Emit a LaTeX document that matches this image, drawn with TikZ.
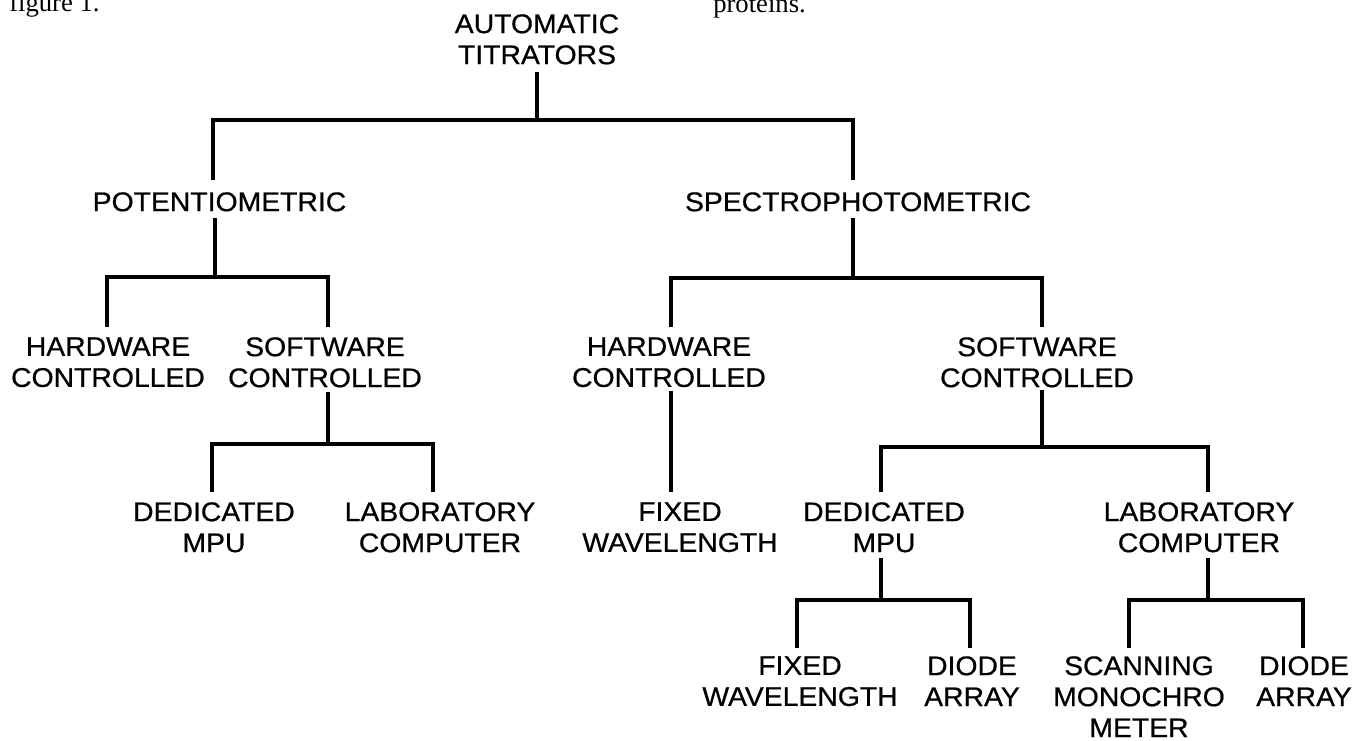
\documentclass[tikz,border=0pt]{standalone}
\usepackage{fontspec}
\setmainfont{Liberation Sans}[FakeStretch=1.05, FakeBold=0.6]
\newfontfamily\bodyserif{Liberation Serif}
\usetikzlibrary{calc}
\tikzset{
  lbl/.style={anchor=north, inner sep=0pt, align=center,
    font=\fontsize{20.25pt}{23.25pt}\selectfont},
  frag/.style={anchor=base west, inner sep=0pt,
    font=\bodyserif\fontsize{20pt}{24pt}\selectfont},
  conn/.style={line width=3.3pt, line join=miter, line cap=butt, black}
}
\begin{document}
\begin{tikzpicture}[x=0.75pt, y=-0.75pt]
\useasboundingbox (0,0) rectangle (1353,740);
\clip (0,0) rectangle (1353,740);
\fill[white] (0,0) rectangle (1353,740);

% cut-off page text
\node[frag] (fig) at (9,11) {figure 1.};
\node[frag] (prot) at (713,12) {proteins.};

% labels
\node[lbl] (root) at (537,14)  {AUTOMATIC\\TITRATORS};
\node[lbl] (pot)  at (219.5,192) {POTENTIOMETRIC};
\node[lbl] (spec) at (858,192) {SPECTROPHOTOMETRIC};
\node[lbl] (hw1)  at (108,337) {HARDWARE\\CONTROLLED};
\node[lbl] (sw1)  at (325,337) {SOFTWARE\\CONTROLLED};
\node[lbl] (hw2)  at (669,337) {HARDWARE\\CONTROLLED};
\node[lbl] (sw2)  at (1037,337) {SOFTWARE\\CONTROLLED};
\node[lbl] (dm1)  at (214,502) {DEDICATED\\MPU};
\node[lbl] (lc1)  at (440,502) {LABORATORY\\COMPUTER};
\node[lbl] (fw1)  at (680,502) {FIXED\\WAVELENGTH};
\node[lbl] (dm2)  at (884,502) {DEDICATED\\MPU};
\node[lbl] (lc2)  at (1199,502) {LABORATORY\\COMPUTER};
\node[lbl] (fw2)  at (800,656) {FIXED\\WAVELENGTH};
\node[lbl] (da1)  at (972,656) {DIODE\\ARRAY};
\node[lbl] (sm)   at (1139,656) {SCANNING\\MONOCHRO\\METER};
\node[lbl] (da2)  at (1304,656) {DIODE\\ARRAY};

% junction points
\coordinate (barA) at (537,120);
\coordinate (barP) at (215,277);
\coordinate (barS) at (853,278);
\coordinate (barW) at (328,444);
\coordinate (barX) at (1042,447);
\coordinate (barD) at (881,600);
\coordinate (barL) at (1208,600);

% connectors
\draw[conn] ($(root.south)+(0,7)$) -- (barA);
\draw[conn] ($(pot.north)+(-6.5,-12)$) |- (barA) -| ($(spec.north)+(-5,-12)$);

\draw[conn] ($(pot.south)+(-4.5,6)$) -- (barP);
\draw[conn] ($(hw1.north)+(-1,-10)$) |- (barP) -| ($(sw1.north)+(3,-10)$);

\draw[conn] ($(spec.south)+(-5,6)$) -- (barS);
\draw[conn] ($(hw2.north)+(2,-10)$) |- (barS) -| ($(sw2.north)+(5,-10)$);

\draw[conn] ($(sw1.south)+(3,4)$) -- (barW);
\draw[conn] ($(dm1.north)+(-2,-10)$) |- (barW) -| ($(lc1.north)+(-7,-10)$);

\draw[conn] ($(hw2.south)+(2,4)$) -- ($(fw1.north)+(-9,-10)$);

\draw[conn] ($(sw2.south)+(5,2)$) -- (barX);
\draw[conn] ($(dm2.north)+(-3,-10)$) |- (barX) -| ($(lc2.north)+(9,-10)$);

\draw[conn] ($(dm2.south)+(-3,5)$) -- (barD);
\draw[conn] ($(fw2.north)+(-3,-8)$) |- (barD) -| ($(da1.north)+(-2,-8)$);

\draw[conn] ($(lc2.south)+(9,5)$) -- (barL);
\draw[conn] ($(sm.north)+(-10,-8)$) |- (barL) -| ($(da2.north)+(-1,-8)$);
\end{tikzpicture}
\end{document}
